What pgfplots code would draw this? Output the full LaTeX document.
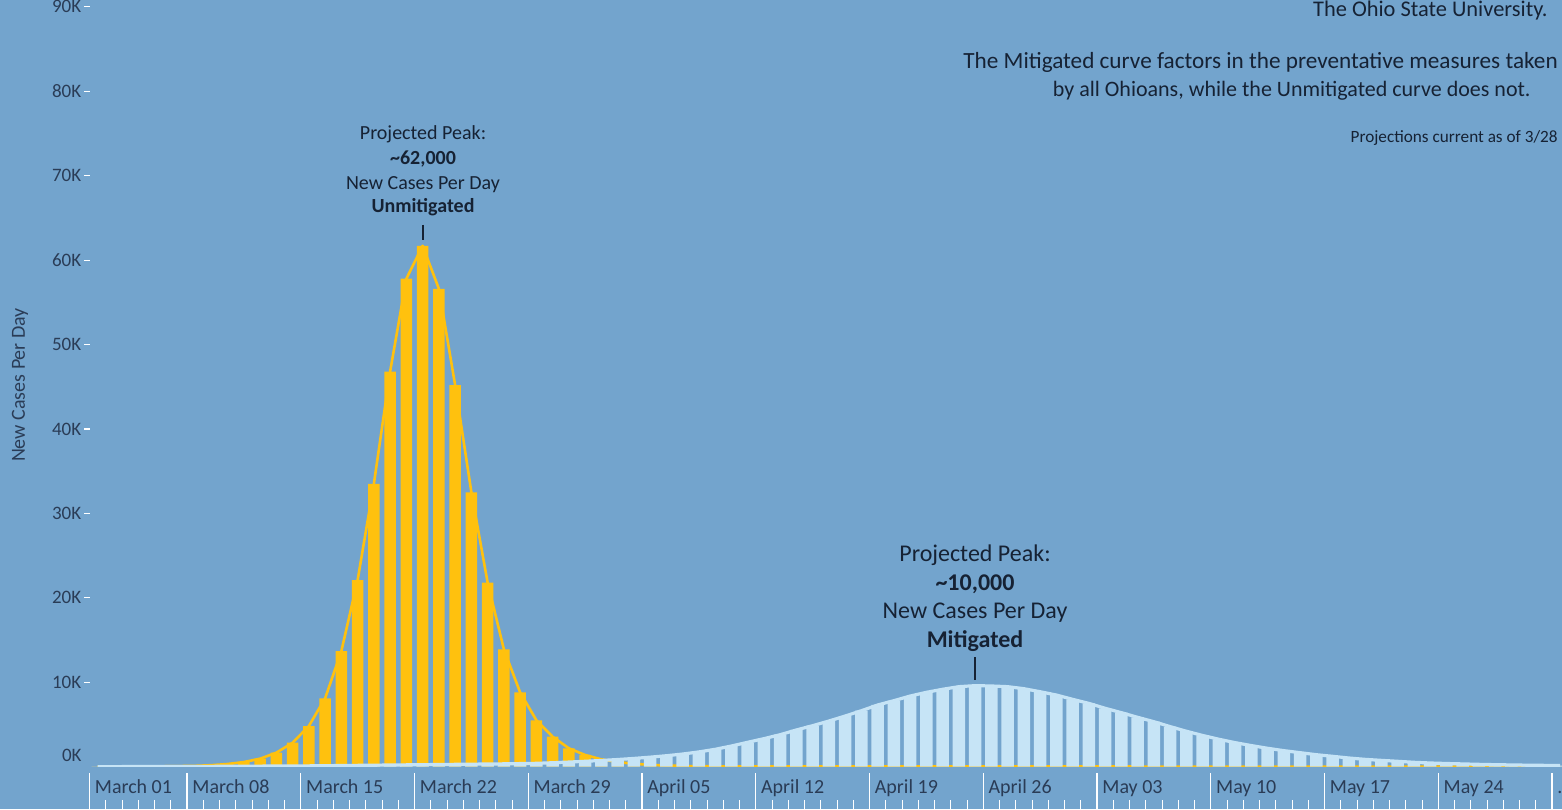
\documentclass[border=0pt]{standalone}
\usepackage{fontspec}
\setmainfont{Carlito}
\usepackage{pgfplots}
\pgfplotsset{compat=1.18}
\usepackage{pgfplotstable}
\definecolor{bgblue}{RGB}{115,164,205}
\definecolor{gold}{RGB}{255,193,14}
\definecolor{lblue}{RGB}{198,228,246}
\definecolor{ticktxt}{RGB}{42,60,86}
\definecolor{antxt}{RGB}{22,34,52}

% day = days since March 1 (0 = March 1); new cases per day
\pgfplotstableread{
day unmit mit
1 10 10
2 15 10
3 20 15
4 30 20
5 45 25
6 70 30
7 100 35
8 180 40
9 320 50
10 550 60
11 950 70
12 1660 80
13 2840 90
14 4820 100
15 8100 120
16 13700 140
17 22100 160
18 33500 180
19 46800 200
20 57800 220
21 61700 240
22 56600 260
23 45200 280
24 32500 300
25 21800 320
26 13900 340
27 8800 370
28 5500 400
29 3550 470
30 2180 550
31 1390 640
32 870 740
33 550 850
34 350 980
35 220 1130
36 140 1300
37 90 1500
38 60 1750
39 40 2060
40 30 2450
41 25 2890
42 20 3320
43 20 3790
44 20 4350
45 20 4860
46 20 5410
47 20 6000
48 20 6630
49 20 7310
50 20 7820
51 20 8370
52 20 8810
53 20 9170
54 20 9480
55 20 9600
56 20 9560
57 20 9480
58 20 9240
59 20 8880
60 20 8490
61 20 7980
62 20 7500
63 20 6920
64 20 6400
65 20 5850
66 10 5330
67 10 4750
68 10 4200
69 10 3700
70 10 3250
71 10 2850
72 10 2500
73 10 2180
74 10 1900
75 10 1660
76 10 1420
77 10 1230
78 10 1030
79 10 870
80 10 750
81 10 640
82 10 520
83 10 440
84 10 380
85 10 330
86 10 280
87 10 240
88 10 210
89 10 180
90 10 160
91 10 140
}\cases

\begin{document}
\begin{tikzpicture}
\fill[bgblue] (-44.75pt,-21.15pt) rectangle (736.25pt,383.35pt);
\begin{axis}[
  at={(0,0)}, anchor=south west,
  scale only axis, width=736.25pt, height=383.35pt,
  xmin=1, xmax=91.615, ymin=0, ymax=90809,
  axis line style={draw=none},
  tick style={draw=none},
  xtick={1,7,14,21,28,35,42,49,56,63,70,77,84,91},
  xticklabels={March 01,March 08,March 15,March 22,March 29,April 05,April 12,April 19,April 26,May 03,May 10,May 17,May 24,.},
  xticklabel style={anchor=west, xshift=2.5pt, yshift=-10.5pt, inner sep=0pt,
    text height=1.4ex, text depth=0.25ex,
    font=\fontsize{10}{12}\selectfont, text=ticktxt},
  ytick={0,10000,20000,30000,40000,50000,60000,70000,80000,90000},
  yticklabels={{},10K,20K,30K,40K,50K,60K,70K,80K,90K},
  yticklabel style={font=\fontsize{9.5}{11}\selectfont, text=ticktxt, xshift=-0.6pt},
  scaled y ticks=false,
]
% unmitigated (gold)
\addplot[ybar, bar width=0.7, bar shift=0pt, fill=gold, draw=none]
  table[x expr=\thisrow{day}+0.5, y=unmit] {\cases};
\addplot[gold, line width=1.3pt, mark=none, line join=round]
  table[x expr=\thisrow{day}+0.5, y=unmit] {\cases};
% mitigated (light blue)
\addplot[ybar, bar width=0.76, bar shift=0pt, fill=lblue, draw=none]
  table[x expr=\thisrow{day}+0.5, y=mit] {\cases};
\addplot[lblue, line width=1.6pt, mark=none, line join=round]
  table[x expr=\thisrow{day}+0.5, y=mit] {\cases};
\end{axis}

% axis decorations: week separators, day ticks, y tick dashes
\foreach \d in {1,7,14,21,28,35,42,49,56,63,70,77,84,91}
  \draw[white, line width=0.6pt] ({(\d-1)*8.125pt},-3.15pt) -- ++(0,-18pt);
\foreach \d in {2,...,91}
  \draw[white, line width=0.5pt] ({(\d-1)*8.125pt},-16.65pt) -- ++(0,-4.5pt);
\foreach \v in {1,...,9}
  \draw[white, line width=0.6pt] (0,{\v*42.215pt}) -- ++(-2.75pt,0);

% 0K label (raised as in the original)
\node[anchor=east, inner sep=0pt, font=\fontsize{9.5}{11}\selectfont, text=ticktxt] at (-3.75pt,5.85pt) {0K};
% y axis title
\node[rotate=90, inner sep=0pt, font=\fontsize{10}{12}\selectfont, text=ticktxt] at (-34.75pt,190.85pt) {New Cases Per Day};

% unmitigated annotation
\begin{scope}[every node/.style={anchor=base, inner sep=0pt, font=\fontsize{10}{12}\selectfont, text=antxt}]
\node at (166.75pt,313.6pt) {Projected Peak:};
\node at (166.75pt,301.1pt) {\textbf{\textasciitilde 62,000}};
\node at (166.75pt,288.6pt) {New Cases Per Day};
\node at (166.75pt,277.1pt) {\textbf{Unmitigated}};
\end{scope}
\draw[antxt, line width=0.8pt] (166.75pt,270.85pt) -- (166.75pt,263.35pt);

% mitigated annotation
\begin{scope}[every node/.style={anchor=base, inner sep=0pt, font=\fontsize{12}{14}\selectfont, text=antxt}]
\node at (442.75pt,102.85pt) {Projected Peak:};
\node at (442.75pt,88.35pt) {\textbf{\textasciitilde 10,000}};
\node at (442.75pt,74.35pt) {New Cases Per Day};
\node at (442.75pt,59.85pt) {\textbf{Mitigated}};
\end{scope}
\draw[antxt, line width=0.8pt] (442.75pt,54.85pt) -- (442.75pt,43.35pt);

% top-right notes
\node[anchor=base east, inner sep=0pt, font=\fontsize{11.2}{13}\selectfont, text=antxt] at (729.25pt,374.85pt) {The Ohio State University.};
\node[anchor=base east, inner sep=0pt, font=\fontsize{11.6}{13}\selectfont, text=antxt] at (734.25pt,348.85pt) {The Mitigated curve factors in the preventative measures taken};
\node[anchor=base east, inner sep=0pt, font=\fontsize{11}{13}\selectfont, text=antxt] at (720.75pt,334.85pt) {by all Ohioans, while the Unmitigated curve does not.};
\node[anchor=base east, inner sep=0pt, font=\fontsize{8.6}{10}\selectfont, text=antxt] at (734.25pt,311.85pt) {Projections current as of 3/28};

\pgfresetboundingbox
\path[use as bounding box] (-44.75pt,-21.15pt) rectangle (736.25pt,383.35pt);
\end{tikzpicture}
\end{document}
